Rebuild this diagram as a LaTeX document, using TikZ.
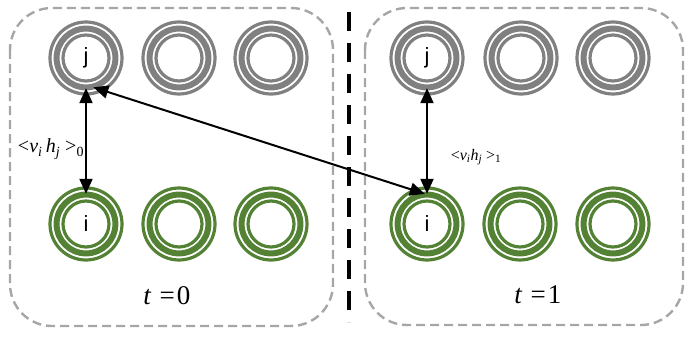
\documentclass[tikz,border=0pt]{standalone}
\usepackage{fontspec}
\setmainfont{Liberation Serif}
\newfontfamily\labsans{Liberation Sans}
\usetikzlibrary{arrows.meta}
\definecolor{ringgray}{RGB}{128,128,128}
\definecolor{ringgreen}{RGB}{84,130,53}
\definecolor{panelgray}{RGB}{166,166,166}
\tikzset{
  unit/.style={circle, draw=none, minimum size=60pt, inner sep=0pt,
    font=\labsans\fontsize{22}{26}\selectfont},
  panel/.style={draw=panelgray, line width=2.4pt, dash pattern=on 9pt off 5pt, rounded corners=42pt},
  link/.style={line width=2pt, {Triangle[length=15pt,width=13pt]}-{Triangle[length=15pt,width=13pt]}},
  sep/.style={line width=4.5pt, dash pattern=on 19pt off 12pt},
  lab/.style={font=\fontsize{27}{32}\selectfont},
  corr/.style={font=\fontsize{20}{24}\selectfont, inner sep=0pt},
}
\newcommand{\threering}[2]{%
  \draw[#2, line width=3.2pt] (#1) circle[radius=36pt];
  \draw[#2, line width=6pt] (#1) circle[radius=29.4pt];
  \draw[#2, line width=3.2pt] (#1) circle[radius=23pt];
}
\begin{document}
\begin{tikzpicture}[x=1pt,y=-1pt]
\useasboundingbox (0,0) rectangle (685,337);
% panels
\draw[panel] (10,8) rectangle (333,326);
\draw[panel] (365,8) rectangle (683,325);
\coordinate (sepT) at (349,12);
\coordinate (sepB) at (349,322);
\draw[sep] (sepT) -- (sepB);
% nodes
\node[unit] (j0) at (86,58) {j};
\node[unit] (a0) at (179,58) {};
\node[unit] (b0) at (271,58) {};
\node[unit] (i0) at (86,224) {i};
\node[unit] (c0) at (179,224) {};
\node[unit] (d0) at (271,224) {};
\node[unit] (j1) at (427,58) {j};
\node[unit] (a1) at (521,58) {};
\node[unit] (b1) at (613,58) {};
\node[unit] (i1) at (427,224) {i};
\node[unit] (c1) at (520,224) {};
\node[unit] (d1) at (613,224) {};
\foreach \n in {j0,a0,b0,j1,a1,b1} {\threering{\n}{ringgray}}
\foreach \n in {i0,c0,d0,i1,c1,d1} {\threering{\n}{ringgreen}}
% connectors
\draw[link] (j0.south) -- (i0.north);
\draw[link] (j0.-76) -- (i1.94);
\draw[link] (i1.north) -- (j1.south);
% labels
\node[corr] (l0) at (51,149) {<\textit{v}\textsubscript{\textit{i}}\,\textit{h}\textsubscript{\textit{j}} >\textsubscript{0}};
\node[corr, font=\fontsize{16}{19}\selectfont] (l1) at (476,157) {<\textit{v}\textsubscript{\textit{i}}\textit{h}\textsubscript{\textit{j}} >\textsubscript{1}};
\node[lab] (t0) at (167,296) {\textit{t}\hspace{0.3em}=\hspace{0.08em}0};
\node[lab] (t1) at (538,295) {\textit{t}\hspace{0.3em}=\hspace{0.08em}1};
\end{tikzpicture}
\end{document}
